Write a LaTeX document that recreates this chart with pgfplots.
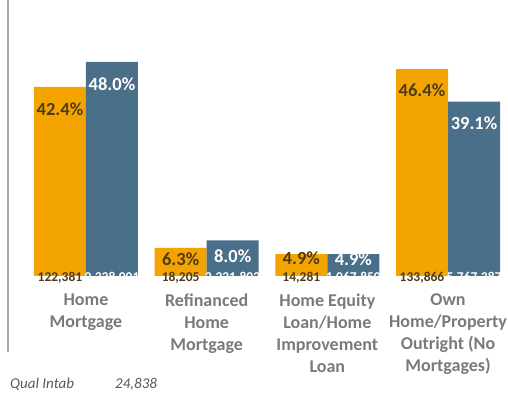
\documentclass[border=0pt]{standalone}
\usepackage{pgfplots}
\pgfplotsset{compat=1.18}
\usepackage{fontspec}
\setmainfont{Carlito}
\definecolor{barorange}{RGB}{244,164,0}
\definecolor{barblue}{RGB}{74,111,136}
\definecolor{labdark}{RGB}{78,60,22}
\definecolor{catgray}{RGB}{122,122,122}
\definecolor{linegray}{RGB}{170,170,170}
\begin{document}
\begin{tikzpicture}
\useasboundingbox (0,0) rectangle (508pt,393pt);
\begin{axis}[
    ,at            = {(8pt,41pt)}
    ,anchor        = south west
    ,scale only axis
    ,width         = 500pt
    ,height        = 352pt
    ,xmin          = -0.646
    ,xmax          = 3.497
    ,ymin          = -17.04
    ,ymax          = 61.88
    ,hide axis
    ,clip          = false
    ,ybar          = 0pt
    ,bar width     = 52pt
    ]
    \addplot [fill=barorange, draw=none] coordinates {(0,42.4) (1,6.3) (2,4.9) (3,46.4)};
    \addplot [fill=barblue, draw=none] coordinates {(0,48.0) (1,8.0) (2,4.9) (3,39.1)};

    \draw [linegray, line width=1.5pt] (axis description cs:0,0) -- (axis description cs:0,1);

    % value labels
    \begin{scope}[every node/.style={font=\fontsize{18.5}{20}\selectfont\bfseries, inner sep=0pt}]
    \node [labdark] at (axis cs:-0.2155,37.4) {42.4\%};
    \node [white]   at (axis cs: 0.2155,43.0) {48.0\%};
    \node [labdark] at (axis cs: 0.7845,3.8) {6.3\%};
    \node [white]   at (axis cs: 1.2155,4.5) {8.0\%};
    \node [labdark] at (axis cs: 1.7845,4.0) {4.9\%};
    \node [white]   at (axis cs: 2.2155,3.8) {4.9\%};
    \node [labdark] at (axis cs: 2.7845,41.7) {46.4\%};
    \node [white]   at (axis cs: 3.2155,34.3) {39.1\%};
    \end{scope}

    % base counts
    \begin{scope}[every node/.style={font=\fontsize{13.5}{14}\selectfont\bfseries, inner sep=0pt}]
    \node [labdark] at (axis cs:-0.2155,-0.3) {122,381};
    \node [white]   at (axis cs: 0.2155,-0.3) {0,338,001};
    \node [labdark] at (axis cs: 0.7845,-0.3) {18,205};
    \node [white]   at (axis cs: 1.2155,-0.3) {2,221,802};
    \node [labdark] at (axis cs: 1.7845,-0.3) {14,281};
    \node [white]   at (axis cs: 2.2155,-0.3) {1,067,850};
    \node [labdark] at (axis cs: 2.7845,-0.3) {133,866};
    \node [white]   at (axis cs: 3.2155,-0.3) {5,767,387};
    \end{scope}

    % category labels
    \begin{scope}[every node/.style={font=\fontsize{18}{22}\selectfont\bfseries, catgray, align=center, anchor=north, inner sep=0pt}]
    \node at (axis cs:0,-3.9) {Home\\Mortgage};
    \node at (axis cs:1,-3.9) {Refinanced\\Home\\Mortgage};
    \node at (axis cs:2,-3.9) {Home Equity\\Loan/Home\\Improvement\\Loan};
    \node at (axis cs:3,-3.9) {Own\\Home/Property\\Outright (No\\Mortgages)};
    \end{scope}
\end{axis}
\node [anchor=base west, inner sep=0pt, font=\fontsize{15}{17}\selectfont\itshape, color=black!65] at (10pt,4pt) {Qual Intab};
\node [anchor=base west, inner sep=0pt, font=\fontsize{15}{17}\selectfont\itshape, color=black!65] at (115pt,4pt) {24,838};
\end{tikzpicture}
\end{document}
